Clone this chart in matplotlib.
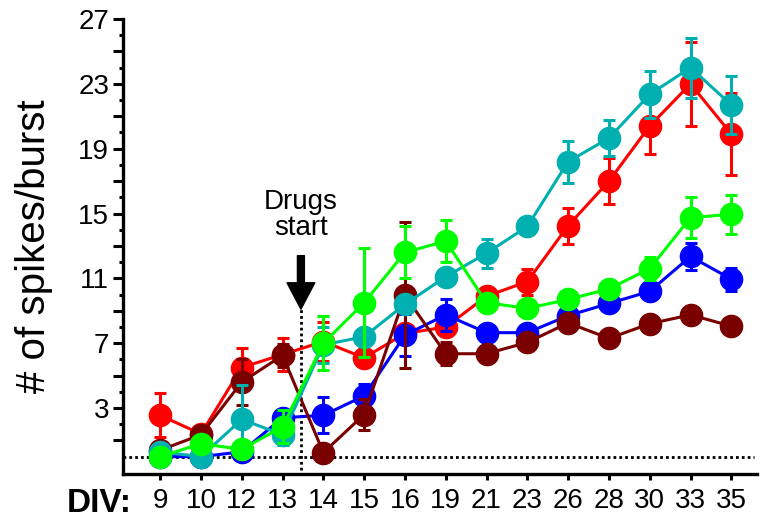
import matplotlib.pyplot as plt
from matplotlib.ticker import FixedLocator, FuncFormatter

# x categories (days in vitro)
div = ['9', '10', '12', '13', '14', '15', '16', '19', '21', '23', '26', '28', '30', '33', '35']

# mean values and error bars of each group
red = [2.55, 1.4, 5.5, 6.3, 7.1, 6.1, 7.6, 8.0, 9.9, 10.8, 14.25, 17.0, 20.4, 23.0, 19.9]
red_err = [1.35, 0.3, 1.2, 1.0, 1.2, 0.4, 0.4, 0.4, 0.4, 0.8, 1.1, 1.4, 1.7, 2.6, 2.55]

blue = [0.0, 0.0, 0.3, 2.4, 2.55, 3.75, 7.5, 8.75, 7.65, 7.65, 8.7, 9.45, 10.2, 12.35, 10.95]
blue_err = [0.2, 0.2, 0.2, 0.3, 1.1, 0.75, 1.3, 1.0, 0.4, 0.4, 0.3, 0.3, 0.3, 0.85, 0.7]

darkred = [0.4, 1.35, 4.6, 6.25, 0.25, 2.6, 9.95, 6.35, 6.35, 7.05, 8.25, 7.3, 8.2, 8.75, 8.05]
darkred_err = [0.2, 0.3, 1.4, 0.7, 0.2, 0.95, 4.5, 0.7, 0.3, 0.3, 0.3, 0.3, 0.3, 0.3, 0.3]

teal = [0.3, 0.0, 2.3, 1.35, 6.9, 7.4, 9.4, 11.1, 12.55, 14.2, 18.2, 19.65, 22.35, 24.0, 21.7]
teal_err = [0.2, 0.2, 2.1, 0.6, 1.1, 0.4, 0.4, 0.4, 0.9, 0.3, 1.3, 1.1, 1.45, 1.85, 1.8]

green = [0.0, 0.8, 0.45, 1.85, 7.0, 9.5, 12.6, 13.3, 9.5, 9.15, 9.7, 10.35, 11.6, 14.75, 14.95]
green_err = [0.2, 0.3, 0.2, 1.0, 1.65, 3.35, 1.6, 1.3, 0.4, 0.3, 0.3, 0.3, 0.7, 1.25, 1.2]

plt.rcParams['font.family'] = ['Liberation Sans', 'DejaVu Sans']

fig = plt.figure(figsize=(7.66, 5.21), dpi=100)
ax = fig.add_axes([0.1606, 0.0902, 0.8277, 0.8733])

x = list(range(len(div)))

# draw order: red, blue, dark red, teal, green (green on top)
series = [
    (red, red_err, '#ff0000'),
    (blue, blue_err, '#0000ff'),
    (darkred, darkred_err, '#7a0000'),
    (teal, teal_err, '#00afaf'),
    (green, green_err, '#00ff00'),
]
for i, (vals, errs, col) in enumerate(series):
    ax.errorbar(x, vals, yerr=errs, fmt='o-', color=col, ecolor=col,
                lw=2.2, markersize=16, elinewidth=2.2, capsize=4.3,
                capthick=2.2, zorder=3 + i)

# baseline and drug start marker
ax.plot([-0.91, 14.56], [0, 0], color='black', lw=2.0, linestyle=(0, (1, 1.1)), zorder=2)
ax.plot([3.45, 3.45], [-0.85, 9.1], color='black', lw=2.0, linestyle=(0, (1, 1.1)), zorder=2)
ax.annotate('', xy=(3.45, 9.1), xytext=(3.45, 12.4),
            arrowprops=dict(facecolor='black', edgecolor='black', width=5,
                            headwidth=20, headlength=19, shrink=0))
ax.text(3.45, 14.9, 'Drugs\nstart', ha='center', va='center', fontsize=20, linespacing=1.0)

# axes limits and spines
ax.set_xlim(-0.91, 14.63)
ax.set_ylim(-1.07, 27)
ax.spines['top'].set_visible(False)
ax.spines['right'].set_visible(False)
ax.spines['left'].set_linewidth(2.4)
ax.spines['bottom'].set_linewidth(2.4)

# x ticks
ax.set_xticks(x)
ax.set_xticklabels(div)
ax.tick_params(axis='x', length=4, width=2.2, labelsize=20, pad=6)

# y ticks: long ticks at odd values, labels every 4
ax.yaxis.set_major_locator(FixedLocator(list(range(1, 28, 2))))
ax.yaxis.set_minor_locator(FixedLocator(list(range(2, 27, 2))))
ax.yaxis.set_major_formatter(FuncFormatter(lambda v, p: str(int(v)) if int(v) % 4 == 3 else ''))
ax.tick_params(axis='y', which='major', length=7, width=2.2, labelsize=20, pad=3)
ax.tick_params(axis='y', which='minor', length=3, width=2.2)

ax.set_ylabel('# of spikes/burst', fontsize=29)
ax.yaxis.set_label_coords(-0.11, 0.5)

fig.text(0.172, 0.034, 'DIV:', ha='right', va='center', fontsize=24, fontweight='bold')

plt.savefig('out.png', dpi=100)
